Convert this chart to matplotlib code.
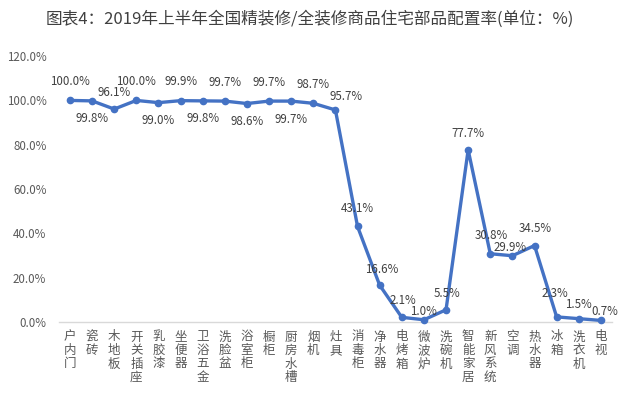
import matplotlib
matplotlib.use("Agg")
import matplotlib.pyplot as plt
import matplotlib.transforms as mtransforms

plt.rcParams["font.family"] = ["Noto Sans CJK SC", "DejaVu Sans"]

# data
categories = ["户内门", "瓷砖", "木地板", "开关插座", "乳胶漆", "坐便器", "卫浴五金",
              "洗脸盆", "浴室柜", "橱柜", "厨房水槽", "烟机", "灶具", "消毒柜", "净水器",
              "电烤箱", "微波炉", "洗碗机", "智能家居", "新风系统", "空调", "热水器",
              "冰箱", "洗衣机", "电视"]
rates = [100.0, 99.8, 96.1, 100.0, 99.0, 99.9, 99.8, 99.7, 98.6, 99.7, 99.7, 98.7,
         95.7, 43.1, 16.6, 2.1, 1.0, 5.5, 77.7, 30.8, 29.9, 34.5, 2.3, 1.5, 0.7]
# label offsets in pixels (dx, dy), mimicking the original placement
label_offsets = [(0, 19), (0, -18), (0, 17), (0, 19), (0, -18), (0, 19), (0, -18),
                 (0, 19), (0, -18), (0, 19), (0, -18), (0, 19), (11, 13), (0, 18),
                 (2, 16), (1, 17), (0, 8), (1, 16), (0, 16), (1, 18), (-2, 8),
                 (1, 17), (-2, 23), (0, 14), (4, 9)]
yticks = [0, 20, 40, 60, 80, 100, 120]

title = "图表4：2019年上半年全国精装修/全装修商品住宅部品配置率(单位：%)"
line_color = "#4472C4"
text_color = "#595959"

fig = plt.figure(figsize=(6.2, 3.98), dpi=100)
ax = fig.add_axes([0.095, 0.191, 0.892, 0.668])

x = list(range(len(categories)))
ax.plot(x, rates, color=line_color, linewidth=2.4, marker="o", markersize=4.5,
        clip_on=False, zorder=3)

for xi, v, (dx, dy) in zip(x, rates, label_offsets):
    ax.annotate(f"{v:.1f}%", (xi, v), xytext=(dx, dy), textcoords="offset pixels",
                ha="center", va="center", fontsize=8.3, color="#404040")

ax.set_xlim(-0.5, len(categories) - 0.5)
ax.set_ylim(0, 120)
ax.set_yticks(yticks)
ax.set_yticklabels([f"{t:.1f}%" for t in yticks], fontsize=8.3, color=text_color)
ax.tick_params(axis="y", length=0, pad=9)
ax.set_xticks([])

for side in ["top", "right", "left"]:
    ax.spines[side].set_visible(False)
ax.spines["bottom"].set_color("#D9D9D9")
ax.spines["bottom"].set_linewidth(1.0)

# vertical category labels, one character per line
trans = mtransforms.blended_transform_factory(ax.transData, ax.transAxes)
for xi, name in zip(x, categories):
    ax.text(xi, -0.032, "\n".join(name), transform=trans, ha="center", va="top",
            fontsize=9, color=text_color, linespacing=1.05)

fig.text(0.5, 0.952, title, ha="center", va="center", fontsize=12, color="#404040")

fig.savefig("out.png", dpi=100)
